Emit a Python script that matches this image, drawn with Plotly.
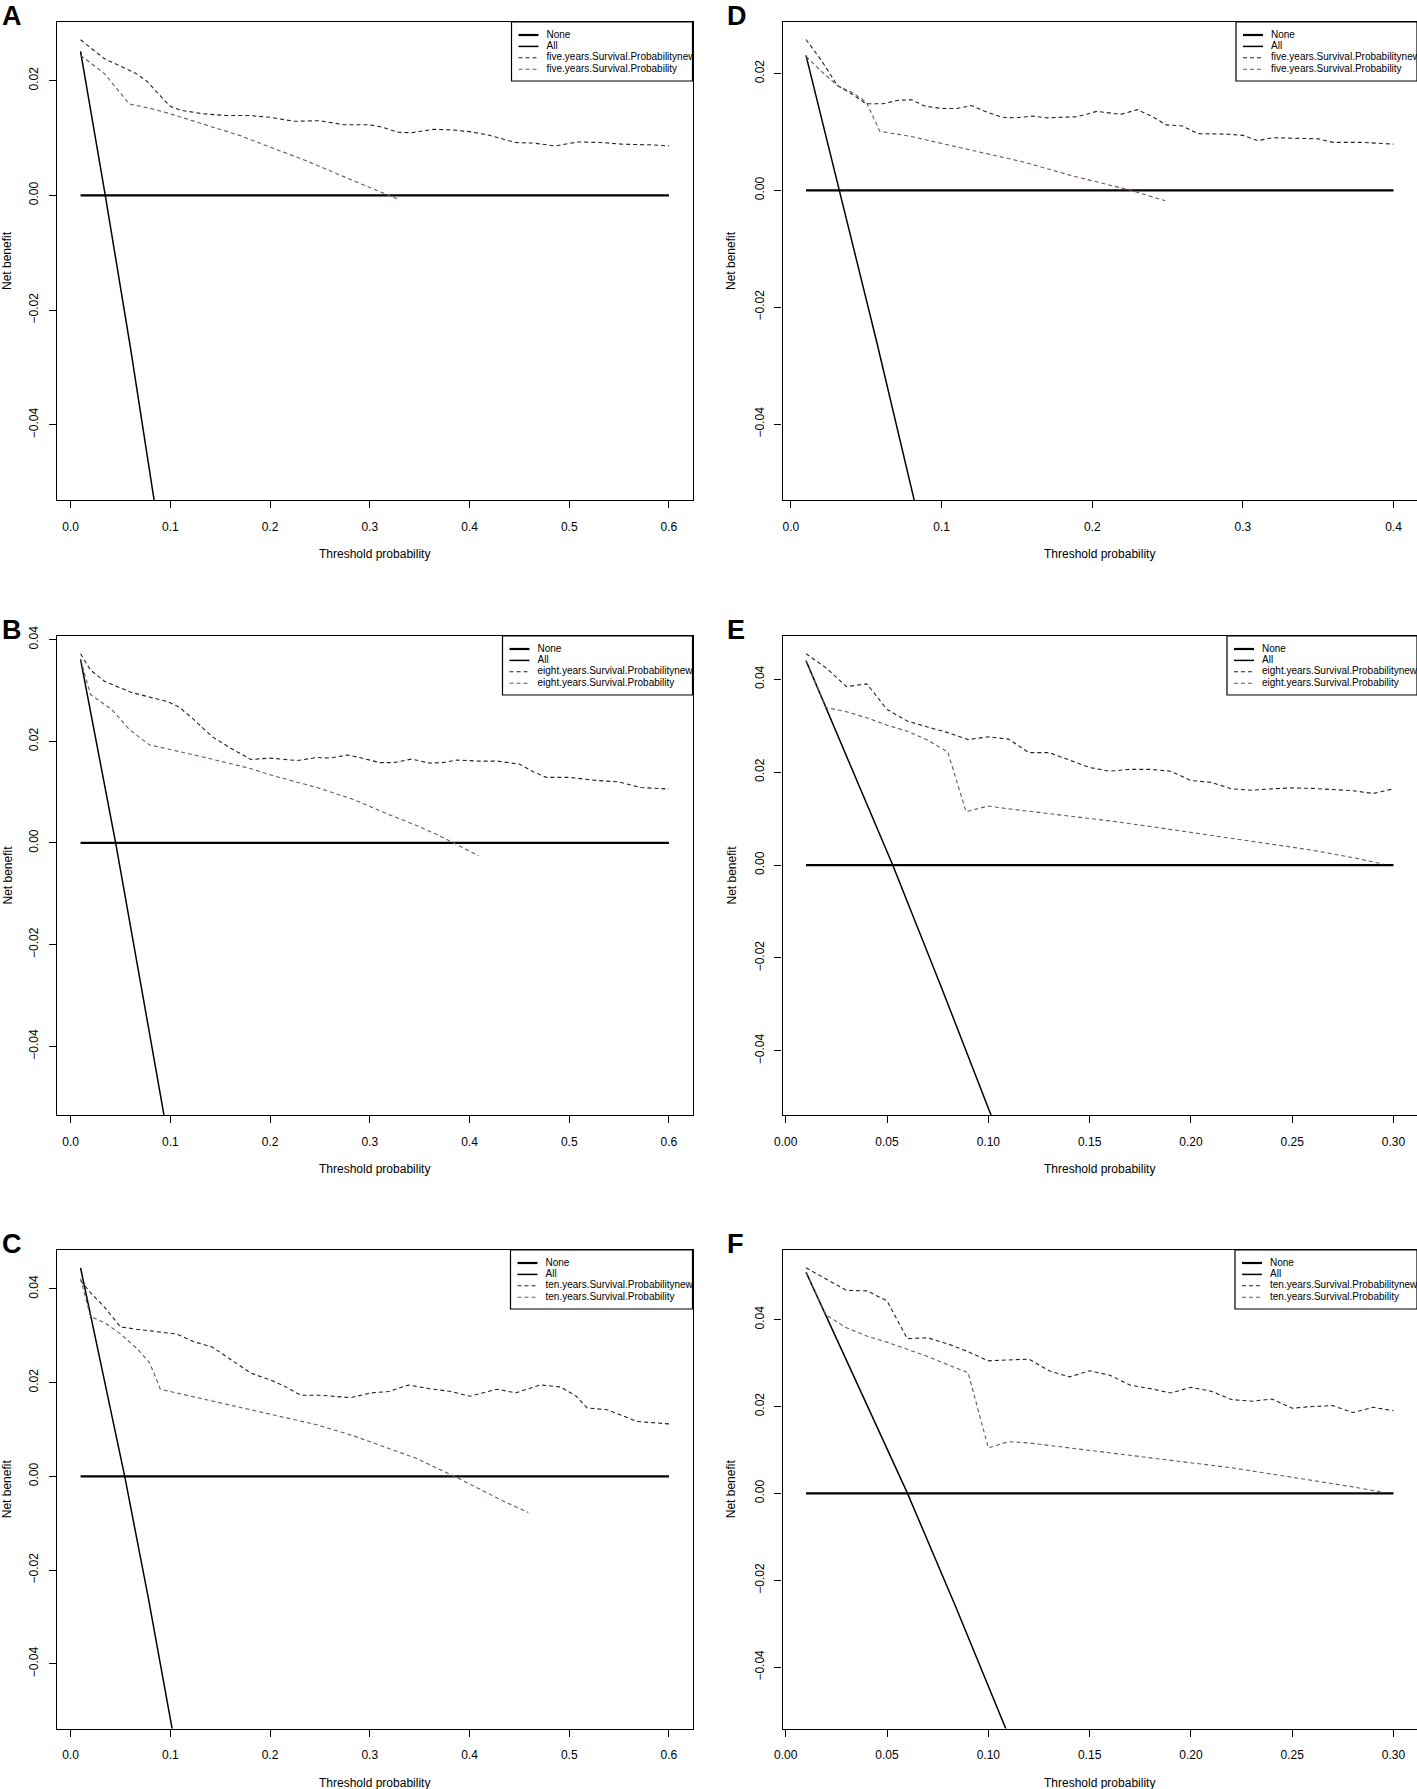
import plotly.graph_objects as go

# ------- Net benefit curves ------- #

# A : five years, left column
a_new_x = [0.01, 0.034, 0.066, 0.077, 0.088, 0.10, 0.111, 0.133, 0.156, 0.179, 0.20, 0.224, 0.25, 0.274, 0.30,
           0.314, 0.328, 0.342, 0.364, 0.382, 0.40, 0.419, 0.446, 0.464, 0.486, 0.509, 0.532, 0.554, 0.581, 0.60]
a_new_y = [0.0271, 0.0238, 0.0212, 0.0198, 0.0177, 0.0155, 0.0148, 0.0142, 0.0139, 0.0139, 0.0136, 0.0129, 0.0130,
           0.0123, 0.0123, 0.0118, 0.0110, 0.0109, 0.0115, 0.0114, 0.0111, 0.0105, 0.0092, 0.0091, 0.0086, 0.0093,
           0.0092, 0.0089, 0.0088, 0.0086]
a_old_x = [0.01, 0.034, 0.059, 0.079, 0.10, 0.133, 0.17, 0.20, 0.238, 0.269, 0.296, 0.319, 0.33]
a_old_y = [0.0244, 0.0212, 0.0159, 0.0152, 0.0142, 0.0124, 0.0104, 0.0084, 0.0059, 0.0036, 0.0017, 0.0001, -0.0008]
a_all_x = [0.01, 0.0348, 0.06, 0.085]
a_all_y = [0.0251, 0.0, -0.0265, -0.0545]

# D : five years, right column
d_new_x = [0.01, 0.02, 0.031, 0.041, 0.05, 0.061, 0.071, 0.08, 0.089, 0.10, 0.11, 0.12, 0.13, 0.14, 0.149, 0.16,
           0.17, 0.19, 0.203, 0.219, 0.23, 0.24, 0.249, 0.26, 0.27, 0.29, 0.30, 0.31, 0.32, 0.35, 0.36, 0.38, 0.40]
d_new_y = [0.0258, 0.0223, 0.0179, 0.0164, 0.0148, 0.0148, 0.0154, 0.0155, 0.0144, 0.0140, 0.0140, 0.0145, 0.0134,
           0.0125, 0.0124, 0.0127, 0.0124, 0.0126, 0.0135, 0.0130, 0.0138, 0.0126, 0.0112, 0.0110, 0.0097, 0.0096,
           0.0094, 0.0085, 0.0090, 0.0088, 0.0082, 0.0082, 0.0079]
d_old_x = [0.01, 0.02, 0.031, 0.041, 0.05, 0.059, 0.08, 0.10, 0.125, 0.155, 0.185, 0.209, 0.227, 0.2485]
d_old_y = [0.0229, 0.0204, 0.0179, 0.0167, 0.0151, 0.0101, 0.0092, 0.0080, 0.0066, 0.0048, 0.0026, 0.0010,
           -0.0001, -0.0018]
d_all_x = [0.01, 0.0323, 0.057, 0.083]
d_all_y = [0.0231, 0.0, -0.026, -0.0543]

# B : eight years, left column
b_new_x = [0.01, 0.02, 0.034, 0.0475, 0.061, 0.079, 0.097, 0.109, 0.124, 0.142, 0.16, 0.181, 0.20, 0.227, 0.247,
           0.26, 0.278, 0.292, 0.31, 0.324, 0.342, 0.36, 0.373, 0.387, 0.41, 0.428, 0.45, 0.464, 0.477, 0.50,
           0.527, 0.55, 0.572, 0.60]
b_new_y = [0.0372, 0.0340, 0.0318, 0.0307, 0.0296, 0.0287, 0.0278, 0.0267, 0.0242, 0.0209, 0.0187, 0.0164, 0.0167,
           0.0162, 0.0168, 0.0167, 0.0173, 0.0167, 0.0158, 0.0158, 0.0165, 0.0157, 0.0158, 0.0163, 0.0161, 0.0161,
           0.0155, 0.0140, 0.0129, 0.0129, 0.0123, 0.0120, 0.0109, 0.0106]
b_old_x = [0.01, 0.02, 0.041, 0.059, 0.079, 0.10, 0.133, 0.179, 0.20, 0.247, 0.283, 0.314, 0.346, 0.369, 0.382,
           0.409]
b_old_y = [0.0361, 0.0292, 0.0263, 0.0223, 0.0193, 0.0184, 0.0169, 0.0147, 0.0134, 0.0109, 0.0086, 0.0060, 0.0035,
           0.0015, 0.0002, -0.0025]
b_all_x = [0.01, 0.0452, 0.07, 0.095]
b_all_y = [0.0361, 0.0, -0.0273, -0.055]

# E : eight years, right column
e_new_x = [0.01, 0.02, 0.03, 0.04, 0.05, 0.06, 0.07, 0.08, 0.09, 0.10, 0.11, 0.12, 0.13, 0.14, 0.15, 0.16, 0.17,
           0.18, 0.19, 0.20, 0.21, 0.22, 0.23, 0.24, 0.25, 0.26, 0.27, 0.28, 0.29, 0.30]
e_new_y = [0.0455, 0.0424, 0.0384, 0.0390, 0.0335, 0.0310, 0.0297, 0.0285, 0.0270, 0.0276, 0.0271, 0.0242, 0.0242,
           0.0226, 0.0210, 0.0202, 0.0206, 0.0206, 0.0202, 0.0182, 0.0178, 0.0164, 0.0161, 0.0164, 0.0166, 0.0165,
           0.0162, 0.0160, 0.0154, 0.0164]
e_old_x = [0.01, 0.02, 0.03, 0.04, 0.05, 0.06, 0.07, 0.08, 0.089, 0.10, 0.11, 0.12, 0.14, 0.16, 0.18, 0.20, 0.22,
           0.24, 0.26, 0.28, 0.295]
e_old_y = [0.0440, 0.0339, 0.0330, 0.0317, 0.0301, 0.0288, 0.0269, 0.0243, 0.0115, 0.0127, 0.0121, 0.0116, 0.0105,
           0.0095, 0.0083, 0.0070, 0.0057, 0.0045, 0.0032, 0.0016, 0.0002]
e_all_x = [0.01, 0.0528, 0.077, 0.103]
e_all_y = [0.0440, 0.0, -0.0265, -0.0557]

# C : ten years, left column
c_new_x = [0.01, 0.02, 0.034, 0.05, 0.066, 0.079, 0.097, 0.106, 0.124, 0.142, 0.16, 0.181, 0.20, 0.213, 0.231,
           0.251, 0.281, 0.301, 0.319, 0.339, 0.36, 0.382, 0.40, 0.428, 0.446, 0.471, 0.491, 0.507, 0.518, 0.538,
           0.554, 0.568, 0.581, 0.60]
c_new_y = [0.0418, 0.0392, 0.0361, 0.0319, 0.0314, 0.0310, 0.0306, 0.0304, 0.0287, 0.0276, 0.0251, 0.0220, 0.0206,
           0.0194, 0.0173, 0.0173, 0.0168, 0.0178, 0.0181, 0.0195, 0.0187, 0.0181, 0.0171, 0.0186, 0.0178, 0.0195,
           0.0191, 0.0171, 0.0146, 0.0142, 0.0129, 0.0117, 0.0115, 0.0112]
c_old_x = [0.01, 0.02, 0.034, 0.05, 0.066, 0.079, 0.085, 0.09, 0.10, 0.133, 0.17, 0.20, 0.247, 0.283, 0.314, 0.346,
           0.382, 0.41, 0.437, 0.459]
c_old_y = [0.0422, 0.0341, 0.0328, 0.0304, 0.0274, 0.0243, 0.0213, 0.0186, 0.0181, 0.0165, 0.0148, 0.0133, 0.0110,
           0.0087, 0.0064, 0.0039, 0.0003, -0.0027, -0.0056, -0.0077]
c_all_x = [0.01, 0.0543, 0.078, 0.103]
c_all_y = [0.0445, 0.0, -0.026, -0.0552]

# F : ten years, right column
f_new_x = [0.01, 0.02, 0.03, 0.04, 0.05, 0.06, 0.07, 0.08, 0.09, 0.10, 0.11, 0.12, 0.13, 0.14, 0.15, 0.16, 0.17,
           0.18, 0.19, 0.20, 0.21, 0.22, 0.23, 0.24, 0.25, 0.26, 0.27, 0.28, 0.29, 0.30]
f_new_y = [0.0519, 0.0492, 0.0467, 0.0466, 0.0443, 0.0356, 0.0358, 0.0344, 0.0326, 0.0305, 0.0307, 0.0309, 0.0282,
           0.0268, 0.0282, 0.0272, 0.0249, 0.0241, 0.0231, 0.0244, 0.0235, 0.0216, 0.0212, 0.0217, 0.0196, 0.0200,
           0.0202, 0.0186, 0.0198, 0.0190]
f_old_x = [0.01, 0.02, 0.03, 0.04, 0.05, 0.06, 0.07, 0.08, 0.09, 0.10, 0.11, 0.12, 0.15, 0.18, 0.20, 0.22, 0.25,
           0.28, 0.295]
f_old_y = [0.0509, 0.0410, 0.0381, 0.0362, 0.0348, 0.0332, 0.0315, 0.0296, 0.0278, 0.0105, 0.0119, 0.0116, 0.0099,
           0.0081, 0.0071, 0.0059, 0.0037, 0.0015, 0.0002]
f_all_x = [0.01, 0.0601, 0.084, 0.110]
f_all_y = [0.0509, 0.0, -0.0262, -0.0557]

# "None" reference line spans
none_x_06 = [0.01, 0.60]
none_x_04 = [0.01, 0.40]
none_x_03 = [0.01, 0.30]

# tick labels
xt_06 = [0.0, 0.1, 0.2, 0.3, 0.4, 0.5, 0.6]
xt_06_txt = ["0.0", "0.1", "0.2", "0.3", "0.4", "0.5", "0.6"]
xt_04 = [0.0, 0.1, 0.2, 0.3, 0.4]
xt_04_txt = ["0.0", "0.1", "0.2", "0.3", "0.4"]
xt_03 = [0.0, 0.05, 0.10, 0.15, 0.20, 0.25, 0.30]
xt_03_txt = ["0.00", "0.05", "0.10", "0.15", "0.20", "0.25", "0.30"]
yt_short = [-0.04, -0.02, 0.0, 0.02]
yt_short_txt = ["\u22120.04", "\u22120.02", "0.00", "0.02"]
yt_long = [-0.04, -0.02, 0.0, 0.02, 0.04]
yt_long_txt = ["\u22120.04", "\u22120.02", "0.00", "0.02", "0.04"]

legend_none = "None"
legend_all = "All"

# ------------- Layout ------------- #

W, H = 1417, 1789
FONT = "Liberation Sans, Arial, Helvetica, sans-serif"
OLD_COL = "#735458"
NEW_COL = "#222222"
DASH = "4px,3px"

# plot frames in page pixels
col_left = [57, 782.5]
col_right = [692.5, 1417]
row_top = [22, 636, 1250]
row_bot = [500, 1115, 1728.5]

panels = [
    # letter, row, col, horizon, x range, y range, x ticks, y ticks, curves, None span, legend box width (px)
    ("A", 0, 0, "five", [-0.0136, 0.6236], [-0.0531, 0.0302], (xt_06, xt_06_txt), (yt_short, yt_short_txt),
     (a_new_x, a_new_y, a_old_x, a_old_y, a_all_x, a_all_y), none_x_06, 181),
    ("D", 0, 1, "five", [-0.0056, 0.4156], [-0.0530, 0.0288], (xt_04, xt_04_txt), (yt_short, yt_short_txt),
     (d_new_x, d_new_y, d_old_x, d_old_y, d_all_x, d_all_y), none_x_04, 181),
    ("B", 1, 0, "eight", [-0.0136, 0.6236], [-0.0535, 0.0407], (xt_06, xt_06_txt), (yt_long, yt_long_txt),
     (b_new_x, b_new_y, b_old_x, b_old_y, b_all_x, b_all_y), none_x_06, 190),
    ("E", 1, 1, "eight", [-0.0016, 0.3116], [-0.0538, 0.0493], (xt_03, xt_03_txt), (yt_long, yt_long_txt),
     (e_new_x, e_new_y, e_old_x, e_old_y, e_all_x, e_all_y), none_x_03, 190),
    ("C", 2, 0, "ten", [-0.0136, 0.6236], [-0.0538, 0.0483], (xt_06, xt_06_txt), (yt_long, yt_long_txt),
     (c_new_x, c_new_y, c_old_x, c_old_y, c_all_x, c_all_y), none_x_06, 182),
    ("F", 2, 1, "ten", [-0.0016, 0.3116], [-0.0541, 0.0560], (xt_03, xt_03_txt), (yt_long, yt_long_txt),
     (f_new_x, f_new_y, f_old_x, f_old_y, f_all_x, f_all_y), none_x_03, 182),
]

fig = go.Figure()
shapes, annots = [], []
layout_axes = {}

for i, (letter, r, c, hz, xr, yr, xt, yt, data, none_x, box_w) in enumerate(panels, start=1):
    xa, ya = "x%d" % i, "y%d" % i
    xname = "xaxis" if i == 1 else "xaxis%d" % i
    yname = "yaxis" if i == 1 else "yaxis%d" % i
    xref = "x" if i == 1 else xa
    yref = "y" if i == 1 else ya
    new_x, new_y, old_x, old_y, all_x, all_y = data

    pw = col_right[c] - col_left[c]
    ph = row_bot[r] - row_top[r]

    layout_axes[xname] = dict(
        domain=[col_left[c] / W, col_right[c] / W], anchor=yref, range=xr, automargin=False,
        tickvals=xt[0], ticktext=xt[1], ticks="outside", ticklen=7, tickwidth=1, tickcolor="black",
        showline=True, mirror=True, linecolor="black", linewidth=1.2, showgrid=False, zeroline=False,
        tickfont=dict(family=FONT, size=12, color="black"), ticklabelstandoff=8,
    )
    layout_axes[yname] = dict(
        domain=[1 - row_bot[r] / H, 1 - row_top[r] / H], anchor=xref, range=yr, automargin=False,
        tickvals=yt[0], ticktext=yt[1], ticks="outside", ticklen=7, tickwidth=1, tickcolor="black",
        showline=True, mirror=True, linecolor="black", linewidth=1.2, showgrid=False, zeroline=False,
        tickangle=-90, tickfont=dict(family=FONT, size=12, color="black"), ticklabelstandoff=6,
    )

    # legend box in the top right corner of the frame
    dx = xref + " domain"
    dy = yref + " domain"
    bw, bh = box_w / pw, 59 / ph
    shapes.append(dict(type="rect", xref=dx, yref=dy, x0=1 - bw, x1=1, y0=1 - bh, y1=1,
                       fillcolor="white", line=dict(color="black", width=1.2), layer="below"))
    labels = [legend_none, legend_all,
              "%s.years.Survival.Probabilitynew" % hz, "%s.years.Survival.Probability" % hz]
    styles = [("black", 2.2, "solid"), ("black", 1.5, "solid"), (NEW_COL, 1.1, DASH), (OLD_COL, 1.1, DASH)]
    lab_x, lab_y = [], []
    for k, (lab, (col, wd, ds)) in enumerate(zip(labels, styles)):
        yy = 1 - (13 + k * 11.4) / ph
        shapes.append(dict(type="line", xref=dx, yref=dy, x0=1 - bw + 7 / pw, x1=1 - bw + 27 / pw, y0=yy, y1=yy,
                           line=dict(color=col, width=wd, dash=ds), layer="above"))
        fx = 1 - bw + 35 / pw
        lab_x.append(xr[0] + fx * (xr[1] - xr[0]))
        lab_y.append(yr[0] + yy * (yr[1] - yr[0]))
    # text as a clipped trace so the long label is cut at the frame edge like the original
    fig.add_trace(go.Scatter(x=lab_x, y=lab_y, mode="text", text=labels, textposition="middle right",
                             textfont=dict(family=FONT, size=10, color="black"), cliponaxis=True,
                             xaxis=xa, yaxis=ya, showlegend=False, hoverinfo="skip"))

    # curves
    fig.add_trace(go.Scatter(x=none_x, y=[0, 0], mode="lines", line=dict(color="black", width=2.2),
                             xaxis=xa, yaxis=ya, showlegend=False, hoverinfo="skip"))
    fig.add_trace(go.Scatter(x=all_x, y=all_y, mode="lines", line=dict(color="black", width=1.5),
                             xaxis=xa, yaxis=ya, showlegend=False, hoverinfo="skip"))
    fig.add_trace(go.Scatter(x=new_x, y=new_y, mode="lines", line=dict(color=NEW_COL, width=1.1, dash=DASH),
                             xaxis=xa, yaxis=ya, showlegend=False, hoverinfo="skip"))
    fig.add_trace(go.Scatter(x=old_x, y=old_y, mode="lines", line=dict(color=OLD_COL, width=1.1, dash=DASH),
                             xaxis=xa, yaxis=ya, showlegend=False, hoverinfo="skip"))

    # titles and panel letters
    annots.append(dict(text="Threshold probability", xref="paper", yref="paper",
                       xanchor="center", yanchor="middle",
                       x=(col_left[c] + col_right[c]) / 2 / W, y=1 - (row_bot[r] + 54) / H,
                       showarrow=False, font=dict(family=FONT, size=12, color="black")))
    annots.append(dict(text="Net benefit", xref="paper", yref="paper", textangle=-90,
                       xanchor="center", yanchor="middle",
                       x=(7 if c == 0 else 731) / W, y=1 - (row_top[r] + row_bot[r]) / 2 / H,
                       showarrow=False, font=dict(family=FONT, size=12, color="black")))
    annots.append(dict(text="<b>%s</b>" % letter, xref="paper", yref="paper",
                       xanchor="left", yanchor="middle",
                       x=(0 if c == 0 else 725) / W, y=1 - (row_top[r] - 6) / H,
                       showarrow=False, font=dict(family=FONT, size=27, color="black")))

fig.update_layout(
    width=W, height=H, autosize=False,
    margin=dict(l=0, r=0, t=0, b=0, autoexpand=False),
    paper_bgcolor="white", plot_bgcolor="white",
    showlegend=False, shapes=shapes, annotations=annots,
    **layout_axes,
)

fig.write_html("out.html", config={"displayModeBar": False},
               post_script="document.documentElement.style.margin='0';"
                           "document.body.style.margin='0';document.body.style.padding='0';")
